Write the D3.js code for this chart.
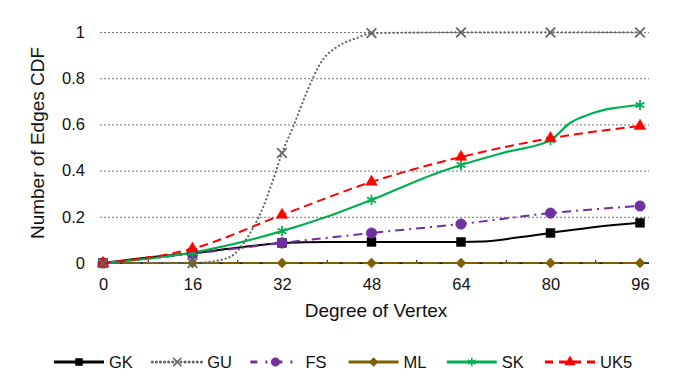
<!DOCTYPE html>
<html>
<head>
<meta charset="utf-8">
<script src="https://cdn.jsdelivr.net/npm/d3@7"></script>
<style>
  body { margin: 0; background: #fff; }
  text { font-family: "Liberation Sans", Arial, sans-serif; fill: #111; }
</style>
</head>
<body>
<script>
const width = 676;
const height = 387;

// values
const degrees = [0, 16, 32, 48, 64, 80, 96];
const seriesNames = ["GK", "GU", "FS", "ML", "SK", "UK5"];
const gkValues = [0, 0.043, 0.087, 0.091, 0.091, 0.13, 0.174];
const guValues = [0, 0, 0.476, 0.995, 0.998, 0.998, 0.998];
const fsValues = [0, 0.04, 0.087, 0.13, 0.169, 0.216, 0.247];
const mlValues = [0, 0, 0, 0, 0, 0, 0];
const skValues = [0, 0.045, 0.138, 0.273, 0.424, 0.532, 0.684];
const uk5Values = [0, 0.062, 0.208, 0.351, 0.459, 0.54, 0.593];

// extra points on the smoothed lines between markers
const gkCurve = [[0,0],[8,0.024],[16,0.043],[24,0.066],[32,0.087],[40,0.091],[48,0.091],[64,0.091],[68,0.093],[74,0.11],[80,0.13],[88,0.156],[96,0.174]];
const guCurve = [[0,0],[16,0],[19,0.005],[22.7,0.026],[26.3,0.13],[28.6,0.24],[30.4,0.36],[32,0.476],[34,0.59],[36.1,0.72],[37.6,0.805],[39.3,0.88],[41.8,0.935],[45.4,0.974],[48,0.995],[64,0.998],[80,0.998],[96,0.998]];
const skCurve = [[0,0],[16,0.045],[32,0.138],[40,0.2],[48,0.273],[60,0.392],[64,0.424],[72,0.48],[80,0.532],[83.5,0.606],[86.5,0.64],[96,0.684]];

const yTicks = [0, 0.2, 0.4, 0.6, 0.8, 1];
const xLabelTicks = [0, 16, 32, 48, 64, 80, 96];
const xMinorTicks = d3.range(0, 97, 8);

const plot = { left: 100, right: 649 };

const styles = {
  GK:  { color: "#000000", dash: null,      width: 2,   symbol: d3.symbolSquare,   size: 80, legendSize: 50, stroke: false },
  GU:  { color: "#666666", dash: "0.1,4",   width: 2.2, symbol: d3.symbolTimes,    size: 62, legendSize: 46, stroke: true },
  FS:  { color: "#7030a0", dash: "9,5,2,5", width: 2,   symbol: d3.symbolCircle,   size: 88, legendSize: 60, stroke: false },
  ML:  { color: "#7f6000", dash: "16,4",    width: 2.2, symbol: d3.symbolDiamond2, size: 64, legendSize: 50, stroke: false },
  SK:  { color: "#00b050", dash: null,      width: 2.2, symbol: d3.symbolAsterisk, size: 72, legendSize: 50, stroke: true },
  UK5: { color: "#ff0000", dash: "9,5",     width: 2,   symbol: d3.symbolTriangle, size: 60, legendSize: 48, stroke: false }
};
const legendDash = { GK: null, GU: "0.1,4", FS: "7,8,2,8", ML: null, SK: null, UK5: "8,6" };

const seriesData = {
  GK:  { marks: gkValues,  curve: gkCurve },
  GU:  { marks: guValues,  curve: guCurve },
  FS:  { marks: fsValues,  curve: null },
  ML:  { marks: mlValues,  curve: null },
  SK:  { marks: skValues,  curve: skCurve },
  UK5: { marks: uk5Values, curve: null }
};

const svg = d3.select("body").append("svg").attr("width", width).attr("height", height);

const x = d3.scaleLinear().domain([0, 96]).range([103, 640]);
const y = d3.scaleLinear().domain([0, 1]).range([263, 32]);

// gridlines + y labels
const yAxis = d3.axisLeft(y).tickValues(yTicks).tickFormat(d3.format("~g"))
  .tickSize(-(plot.right - plot.left)).tickPadding(15);
const gy = svg.append("g").attr("transform", `translate(${plot.left},0)`).call(yAxis);
gy.select(".domain").remove();
gy.selectAll(".tick line").attr("stroke", "#777").attr("stroke-dasharray", "2,2").attr("stroke-width", 1);
gy.selectAll(".tick text").attr("font-size", 16.5).attr("font-family", "Liberation Sans, Arial, sans-serif").attr("fill", "#111");

// x axis line with small inward ticks
svg.append("line")
  .attr("x1", plot.left).attr("x2", plot.right)
  .attr("y1", y(0)).attr("y2", y(0))
  .attr("stroke", "#000").attr("stroke-width", 1.3);
const gxMinor = svg.append("g").attr("transform", `translate(0,${y(0)})`)
  .call(d3.axisBottom(x).tickValues(xMinorTicks).tickSize(-3).tickFormat(""));
gxMinor.select(".domain").remove();
gxMinor.selectAll(".tick line").attr("stroke", "#000");

const gx = svg.append("g").attr("transform", `translate(0,${y(0)})`)
  .call(d3.axisBottom(x).tickValues(xLabelTicks).tickSize(0).tickPadding(15).tickFormat(d3.format("d")));
gx.select(".domain").remove();
gx.selectAll(".tick text").attr("font-size", 16.5).attr("font-family", "Liberation Sans, Arial, sans-serif").attr("fill", "#111");

// axis titles
svg.append("text")
  .attr("x", 376).attr("y", 317)
  .attr("text-anchor", "middle").attr("font-size", 19)
  .text("Degree of Vertex");
svg.append("text")
  .attr("transform", "translate(44,143) rotate(-90)")
  .attr("text-anchor", "middle").attr("font-size", 19)
  .text("Number of Edges CDF");

// series lines
const line = d3.line().x(d => x(d[0])).y(d => y(d[1])).curve(d3.curveMonotoneX);
const drawOrder = ["ML", "GK", "FS", "SK", "UK5", "GU"];

function symbolFor(s, size) {
  return d3.symbol().type(s.symbol).size(size)();
}

drawOrder.forEach(name => {
  const s = styles[name];
  const sd = seriesData[name];
  const pts = sd.curve || degrees.map((d, i) => [d, sd.marks[i]]);
  svg.append("path")
    .datum(pts)
    .attr("d", line)
    .attr("fill", "none")
    .attr("stroke", s.color)
    .attr("stroke-width", s.width)
    .attr("stroke-linecap", name === "GU" ? "round" : "butt")
    .attr("stroke-dasharray", s.dash);
});

drawOrder.forEach(name => {
  const s = styles[name];
  const sd = seriesData[name];
  svg.append("g").selectAll("path")
    .data(degrees.map((d, i) => [d, sd.marks[i]]))
    .enter().append("path")
    .attr("transform", d => `translate(${x(d[0])},${y(d[1])})`)
    .attr("d", symbolFor(s, s.size))
    .attr("fill", s.stroke ? "none" : s.color)
    .attr("stroke", s.color)
    .attr("stroke-width", s.stroke ? 1.8 : 0.5);
});

// legend
const legend = svg.append("g").attr("transform", "translate(54,362)");
const legendX = d3.scalePoint().domain(seriesNames).range([0, 491]);
seriesNames.forEach(name => {
  const s = styles[name];
  const g = legend.append("g").attr("transform", `translate(${legendX(name)},0)`);
  g.append("line")
    .attr("x1", 0).attr("x2", 50).attr("y1", 0).attr("y2", 0)
    .attr("stroke", s.color).attr("stroke-width", s.width + 0.8)
    .attr("stroke-linecap", name === "GU" ? "round" : "butt")
    .attr("stroke-dasharray", legendDash[name]);
  g.append("path")
    .attr("transform", "translate(25,0)")
    .attr("d", symbolFor(s, s.legendSize))
    .attr("fill", s.stroke ? "none" : s.color)
    .attr("stroke", s.color)
    .attr("stroke-width", s.stroke ? 1.5 : 0.5);
  g.append("text")
    .attr("x", 55).attr("y", 6)
    .attr("font-size", 16.5)
    .text(name);
});
</script>
</body>
</html>
